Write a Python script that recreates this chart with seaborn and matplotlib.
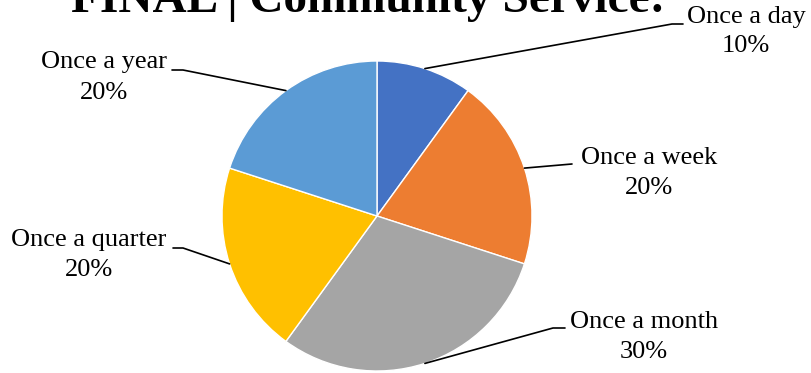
import numpy as np
import matplotlib
matplotlib.use("Agg")
import matplotlib.pyplot as plt
import seaborn as sns

# ---- data ----
categories = ["Once a day", "Once a week", "Once a month", "Once a quarter", "Once a year"]
values = [10, 20, 30, 20, 20]
colors = ["#4472C4", "#ED7D31", "#A5A5A5", "#FFC000", "#5B9BD5"]
title = "FINAL | Community Service:"

sns.set_theme(style="white")
plt.rcParams["font.family"] = ["Liberation Serif", "DejaVu Serif"]

W, H = 812, 373
fig = plt.figure(figsize=(W / 100, H / 100), dpi=100)
ax = fig.add_axes([0, 0, 1, 1])
ax.set_xlim(0, W)
ax.set_ylim(0, H)
ax.set_aspect("equal")
ax.axis("off")

cx, cy, r = 377, H - 216, 155
palette = sns.color_palette(colors)
wedges, _ = ax.pie(values, colors=palette, startangle=90, counterclock=False,
                   center=(cx, cy), radius=r, frame=True,
                   wedgeprops=dict(edgecolor="white", linewidth=1))
ax.set_xlim(0, W)
ax.set_ylim(0, H)
ax.axis("off")

# label layout: (text center x, name y from top, pct y from top, elbow, line end) in pixels
layout = [
    (746, 17, 46, (672, 24), (683, 24)),
    (649, 158, 188, (572, 164), (572, 164)),
    (644, 322, 352, (553, 328), (565, 328)),
    (89, 240, 270, (183, 248), (173, 248)),
    (104, 62, 93, (183, 70), (172, 70)),
]
total = sum(values)
fs = 19
for w, cat, val, (tx, y1, y2, elbow, end) in zip(wedges, categories, values, layout):
    th = np.deg2rad((w.theta1 + w.theta2) / 2)
    sx, sy = cx + r * np.cos(th), cy + r * np.sin(th)
    ax.plot([sx, elbow[0], end[0]], [sy, H - elbow[1], H - end[1]], color="black", lw=1.2)
    ax.text(tx, H - y1, cat, ha="center", va="center", fontsize=fs, color="black")
    ax.text(tx, H - y2, f"{round(100 * val / total)}%", ha="center", va="center", fontsize=fs, color="black")

fig.text(368 / W, 1 - 12 / H, title, ha="center", va="baseline", fontsize=34,
         fontweight="bold", color="black")

fig.savefig("out.png", dpi=100, facecolor="white")
